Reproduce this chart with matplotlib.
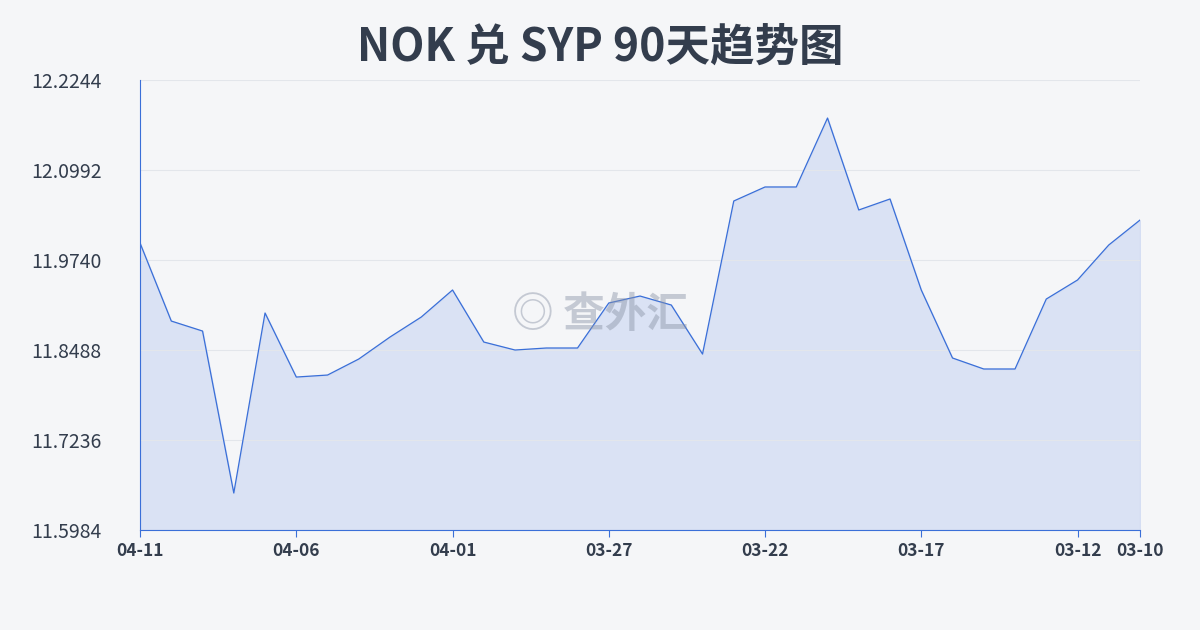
import matplotlib.pyplot as plt

plt.rcParams['font.family'] = ['Noto Sans CJK SC', 'DejaVu Sans']

values = [11.9976, 11.8891, 11.8752, 11.6499, 11.9003, 11.8112, 11.8140, 11.8363,
          11.8669, 11.8947, 11.9323, 11.8599, 11.8488, 11.8516, 11.8516, 11.9142,
          11.9239, 11.9114, 11.8432, 12.0561, 12.0756, 12.0756, 12.1715, 12.0436,
          12.0589, 11.9323, 11.8377, 11.8224, 11.8224, 11.9197, 11.9462, 11.9949,
          12.0296]
tick_pos = [0, 5, 10, 15, 20, 25, 30, 32]
tick_labels = ["04-11", "04-06", "04-01", "03-27", "03-22", "03-17", "03-12", "03-10"]
y_ticks = [11.5984, 11.7236, 11.8488, 11.9740, 12.0992, 12.2244]

fig = plt.figure(figsize=(12, 6.3), dpi=100)
fig.patch.set_facecolor("#f5f6f8")
ax = fig.add_axes([0.1167, 0.1587, 0.8333, 0.7143])
ax.set_facecolor("#f5f6f8")

x = range(len(values))
ax.fill_between(x, values, y_ticks[0], color="#c9d6f2", alpha=0.6)
ax.plot(x, values, color="#3a6fd8", linewidth=0.9)

ax.set_xlim(0, len(values) - 1)
ax.set_ylim(y_ticks[0], y_ticks[-1])
ax.set_yticks(y_ticks)
ax.set_yticklabels([f"{v:.4f}" for v in y_ticks], fontsize=14, color="#333d4d")
ax.set_xticks(tick_pos)
ax.set_xticklabels(tick_labels, fontsize=12.5, color="#333d4d", fontweight="bold")
ax.tick_params(axis="y", length=0, pad=6)
ax.tick_params(axis="x", length=5, color="#3a6fd8")
for lbl in ax.get_yticklabels():
    lbl.set_horizontalalignment("left")
    lbl.set_x(-0.1)
ax.grid(axis="y", color="#e3e6eb", linewidth=0.8)
for s in ["top", "right"]:
    ax.spines[s].set_visible(False)
ax.spines["left"].set_color("#3a6fd8")
ax.spines["bottom"].set_color("#3a6fd8")

fig.text(0.5, 0.925, "NOK 兑 SYP 90天趋势图", ha="center", va="center",
         fontsize=32, fontweight="bold", color="#333d4d")
fig.text(0.5, 0.5, "◎ 查外汇", ha="center", va="center", fontsize=30,
         fontweight="bold", color="#8a93a6", alpha=0.45)

fig.savefig("out.png", dpi=100, facecolor=fig.get_facecolor())
